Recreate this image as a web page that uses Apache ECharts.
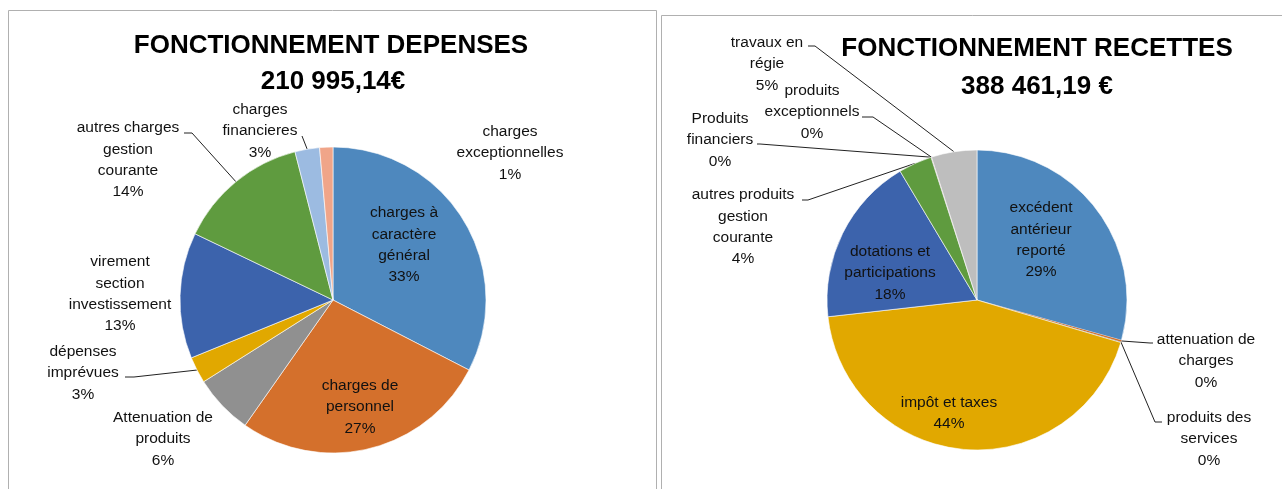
<!DOCTYPE html>
<html>
<head>
<meta charset="utf-8">
<script src="https://cdn.jsdelivr.net/npm/echarts@6/dist/echarts.min.js"></script>
<style>
  html, body { margin: 0; padding: 0; background: #fff; }
  #chart { width: 1282px; height: 489px; }
</style>
</head>
<body>
<div id="chart"></div>
<script>
// dépenses de fonctionnement (parts en %)
const depCategories = [
  'charges à\ncaractère\ngénéral',
  'charges de\npersonnel',
  'Attenuation de\nproduits',
  'dépenses\nimprévues',
  'virement\nsection\ninvestissement',
  'autres charges\ngestion\ncourante',
  'charges\nfinancieres',
  'charges\nexceptionnelles'
]
const depValues = [32.6, 27.2, 6.3, 2.8, 13.3, 13.9, 2.6, 1.4]

// recettes de fonctionnement
const recCategories = [
  'excédent\nantérieur\nreporté',
  'attenuation de\ncharges',
  'produits des\nservices',
  'impôt et taxes',
  'dotations et\nparticipations',
  'autres produits\ngestion\ncourante',
  'Produits\nfinanciers',
  'produits\nexceptionnels',
  'travaux en\nrégie'
]
const recValues = [29.3, 0.15, 0.1, 43.6, 18.2, 3.6, 0.03, 0.03, 4.9]

const depTitle = 'FONCTIONNEMENT DEPENSES'
const depTotal = '210 995,14€'
const recTitle = 'FONCTIONNEMENT RECETTES'
const recTotal = '388 461,19 €'

const depColors = ['#4E88BE', '#D4702C', '#909090', '#E1A800', '#3C63AC', '#5F9B3F', '#9CBBE1', '#F0A589']
const recColors = ['#4E88BE', '#D4702C', '#909090', '#E1A800', '#3C63AC', '#5F9B3F', '#9CBBE1', '#F0A589', '#BEBEBE']

// placement des étiquettes: centre du texte, puis [coude x, y, bout x] du trait de rappel
const depPlace = [
  { x: 404, y: 245 },
  { x: 360, y: 407 },
  { x: 163, y: 439 },
  { x: 83, y: 373, line: [134, 377, 125] },
  { x: 120, y: 294 },
  { x: 128, y: 160, line: [192, 133, 184] },
  { x: 260, y: 131, line: [302, 136, 302] },
  { x: 510, y: 153 }
]
const recPlace = [
  { x: 1041, y: 240 },
  { x: 1206, y: 361, line: [1150, 343, 1153] },
  { x: 1209, y: 439, line: [1155, 422, 1162] },
  { x: 949, y: 413 },
  { x: 890, y: 273 },
  { x: 743, y: 227, line: [808, 200, 802] },
  { x: 720, y: 140, line: [760, 144, 757] },
  { x: 812, y: 112, line: [873, 117, 862] },
  { x: 767, y: 64, line: [815, 46, 808] }
]

const labelFont = 'Liberation Sans, Arial, sans-serif'

function buildData(names, values, colors, place) {
  return names.map((name, i) => ({
    name,
    value: values[i],
    // pas de liseré blanc sur les parts minuscules, sinon elles disparaissent
    itemStyle: { color: colors[i], borderWidth: values[i] < 1 ? 0 : 0.6 },
    labelLine: { show: !!place[i].line }
  }))
}

function placeLabel(place, params) {
  const p = place[params.dataIndex]
  const out = { x: p.x, y: p.y, align: 'center', verticalAlign: 'middle' }
  if (p.line && params.labelLinePoints) {
    const start = params.labelLinePoints[0]
    out.labelLinePoints = [start, [p.line[0], p.line[1]], [p.line[2], p.line[1]]]
  }
  return out
}

function pieSeries(center, radius, data, place) {
  return {
    type: 'pie',
    center,
    radius,
    startAngle: 90,
    clockwise: true,
    percentPrecision: 0,
    avoidLabelOverlap: false,
    silent: true,
    itemStyle: { borderColor: '#ffffff', borderWidth: 0.6 },
    label: {
      show: true,
      position: 'outside',
      formatter: '{b}\n{d}%',
      color: '#111',
      fontFamily: labelFont,
      fontSize: 15.5,
      lineHeight: 21.3
    },
    labelLine: {
      show: true,
      length: 10,
      length2: 10,
      lineStyle: { color: '#222', width: 1 }
    },
    labelLayout: params => placeLabel(place, params),
    data
  }
}

const chart = echarts.init(document.getElementById('chart'))

const titleFont = 'bold 26px Liberation Sans, Arial, sans-serif'

chart.setOption({
  animation: false,
  backgroundColor: '#ffffff',
  graphic: [
    { type: 'rect', shape: { x: 8.5, y: 10.5, width: 648, height: 500 }, style: { fill: 'none', stroke: '#B0B0B0', lineWidth: 1 } },
    { type: 'rect', shape: { x: 661.5, y: 15.5, width: 640, height: 500 }, style: { fill: 'none', stroke: '#B0B0B0', lineWidth: 1 } },
    { type: 'text', x: 331, y: 46, style: { text: depTitle, font: titleFont, fill: '#000', textAlign: 'center', textVerticalAlign: 'middle' } },
    { type: 'text', x: 333, y: 82, style: { text: depTotal, font: titleFont, fill: '#000', textAlign: 'center', textVerticalAlign: 'middle' } },
    { type: 'text', x: 1037, y: 49, style: { text: recTitle, font: titleFont, fill: '#000', textAlign: 'center', textVerticalAlign: 'middle' } },
    { type: 'text', x: 1037, y: 87, style: { text: recTotal, font: titleFont, fill: '#000', textAlign: 'center', textVerticalAlign: 'middle' } }
  ],
  series: [
    pieSeries([333, 300], 153, buildData(depCategories, depValues, depColors, depPlace), depPlace),
    pieSeries([977, 300], 150, buildData(recCategories, recValues, recColors, recPlace), recPlace)
  ]
})

window.addEventListener('resize', () => chart.resize())
</script>
</body>
</html>
